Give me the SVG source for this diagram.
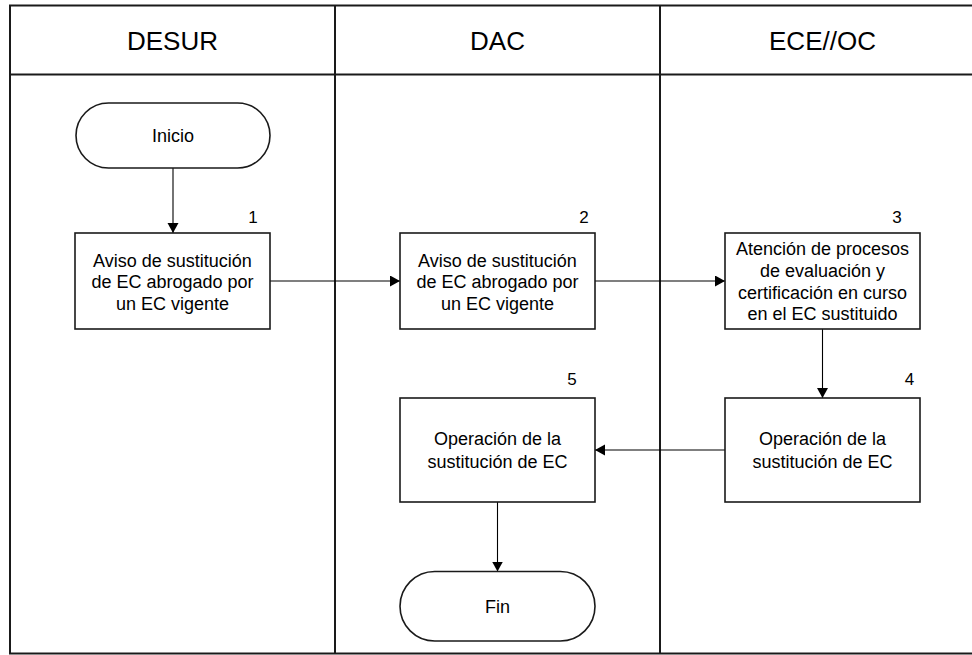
<svg xmlns="http://www.w3.org/2000/svg" width="972" height="655" viewBox="0 0 972 655">
<style>
.lane{fill:none;stroke:#1a1a1a;stroke-width:2}
.box{fill:#fff;stroke:#1a1a1a;stroke-width:1.6}
.hdr{font-family:"Liberation Sans",Arial,sans-serif;font-size:26px;fill:#000;text-anchor:middle}
.t{font-family:"Liberation Sans",Arial,sans-serif;font-size:18px;fill:#000;text-anchor:middle}
.n{font-family:"Liberation Sans",Arial,sans-serif;font-size:17px;fill:#000;text-anchor:middle}
.c{fill:none;stroke:#000;stroke-width:1.1}
</style>
<defs>
<marker id="ah" markerUnits="userSpaceOnUse" markerWidth="11" markerHeight="12" refX="10" refY="5.5" orient="auto">
<path d="M0,0 L10,5.5 L0,11 Z" fill="#000"/>
</marker>
</defs>
<rect width="972" height="655" fill="#fff"/>
<g id="lanes">
<rect class="lane" x="10" y="5.5" width="976" height="648"/>
<line class="lane" x1="10" y1="74.5" x2="986" y2="74.5"/>
<line class="lane" x1="335" y1="5.5" x2="335" y2="653.5"/>
<line class="lane" x1="660" y1="5.5" x2="660" y2="653.5"/>
<text class="hdr" x="172.5" y="50">DESUR</text>
<text class="hdr" x="497.5" y="50">DAC</text>
<text class="hdr" x="822.5" y="50">ECE//OC</text>
</g>
<g id="connectors">
<line class="c" x1="173" y1="168" x2="173" y2="233" marker-end="url(#ah)"/>
<line class="c" x1="270" y1="281" x2="400" y2="281" marker-end="url(#ah)"/>
<line class="c" x1="595" y1="281" x2="725" y2="281" marker-end="url(#ah)"/>
<line class="c" x1="822.5" y1="329" x2="822.5" y2="398" marker-end="url(#ah)"/>
<line class="c" x1="725" y1="450" x2="595" y2="450" marker-end="url(#ah)"/>
<line class="c" x1="497.5" y1="502" x2="497.5" y2="571.5" marker-end="url(#ah)"/>
</g>
<g id="inicio">
<rect class="box" x="76" y="103" width="194" height="65" rx="32.5" ry="32.5"/>
<text class="t" x="173" y="142">Inicio</text>
</g>
<g id="step1">
<rect class="box" x="75" y="233" width="195" height="96"/>
<text class="n" x="253" y="222.5">1</text>
<text class="t" x="172.5" y="266.5">Aviso de sustitución</text>
<text class="t" x="172.5" y="288">de EC abrogado por</text>
<text class="t" x="172.5" y="309.5">un EC vigente</text>
</g>
<g id="step2">
<rect class="box" x="400" y="233" width="195" height="96"/>
<text class="n" x="584" y="222.5">2</text>
<text class="t" x="497.5" y="266.5">Aviso de sustitución</text>
<text class="t" x="497.5" y="288">de EC abrogado por</text>
<text class="t" x="497.5" y="309.5">un EC vigente</text>
</g>
<g id="step3">
<rect class="box" x="725" y="233" width="195" height="96"/>
<text class="n" x="897" y="222.5">3</text>
<text class="t" x="822.5" y="255">Atención de procesos</text>
<text class="t" x="822.5" y="277">de evaluación y</text>
<text class="t" x="822.5" y="298.5">certificación en curso</text>
<text class="t" x="822.5" y="320">en el EC sustituido</text>
</g>
<g id="step4">
<rect class="box" x="725" y="398" width="195" height="104"/>
<text class="n" x="909.5" y="385">4</text>
<text class="t" x="822.5" y="444.5">Operación de la</text>
<text class="t" x="822.5" y="467.5">sustitución de EC</text>
</g>
<g id="step5">
<rect class="box" x="400" y="398" width="195" height="104"/>
<text class="n" x="572" y="385">5</text>
<text class="t" x="497.5" y="444.5">Operación de la</text>
<text class="t" x="497.5" y="467.5">sustitución de EC</text>
</g>
<g id="fin">
<rect class="box" x="400" y="571.5" width="195" height="69.5" rx="34.75" ry="34.75"/>
<text class="t" x="497.5" y="612.5">Fin</text>
</g>
</svg>
